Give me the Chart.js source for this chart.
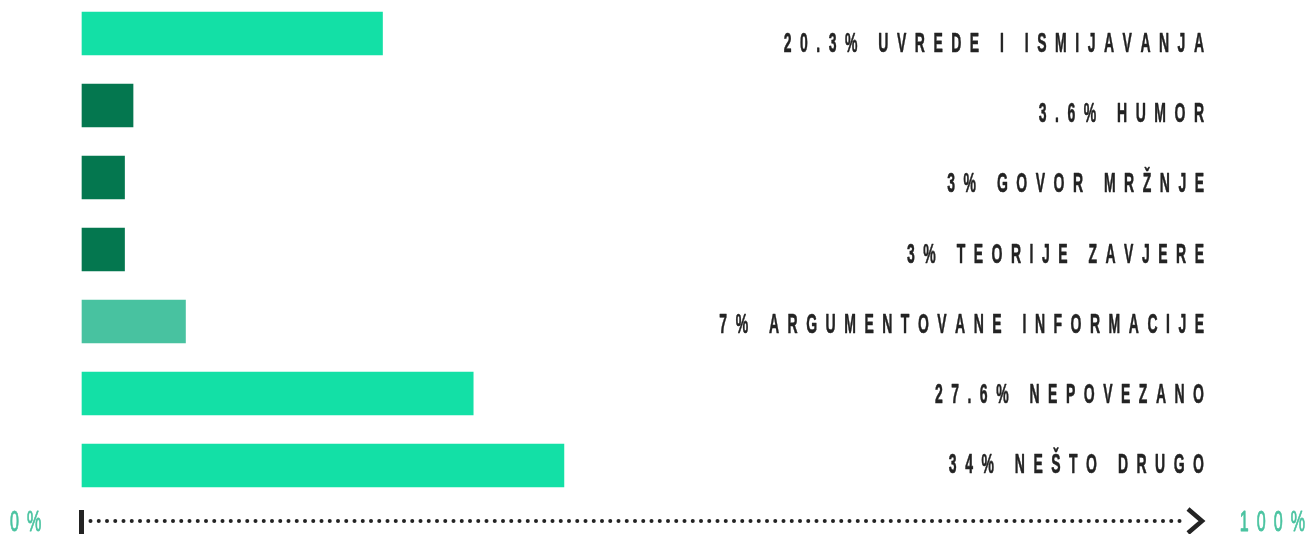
<!DOCTYPE html>
<html><head><meta charset="utf-8">
<script src="https://cdn.jsdelivr.net/npm/chart.js@4.4.0/dist/chart.umd.min.js"></script>
<style>html,body{margin:0;padding:0;background:#fff;}canvas{display:block;}</style>
</head><body>
<canvas id="c" width="1308" height="534"></canvas>
<script>
// ---- data ----
const categories = ["UVREDE I ISMIJAVANJA", "HUMOR", "GOVOR MRŽNJE", "TEORIJE ZAVJERE", "ARGUMENTOVANE INFORMACIJE", "NEPOVEZANO", "NEŠTO DRUGO"];
const percentLabels = ["20.3%", "3.6%", "3%", "3%", "7%", "27.6%", "34%"];
const barValues = [21.2, 3.6, 3, 3, 7.3, 27.6, 34];
const barColors = ["#13E0A6", "#04774F", "#04774F", "#04774F", "#48C2A0", "#13E0A6", "#13E0A6"];
const axisEndLabels = ["0%", "100%"];

const TEXT_DARK = "#232323";
const TEAL = "#4AC3A0";
const LABEL_FONT = 'bold 28px "Liberation Sans", Arial, sans-serif';
const END_FONT = '29px "Liberation Sans", Arial, sans-serif';

function spacedText(ctx, text, x0, baseline, font, sx, spacing, color, align, strokeW) {
  ctx.save();
  ctx.font = font; ctx.fillStyle = color; ctx.strokeStyle = color;
  ctx.textBaseline = 'alphabetic'; ctx.textAlign = 'left';
  const chars = Array.from(text);
  const ws = chars.map(ch => ctx.measureText(ch).width * sx);
  const total = ws.reduce((a, b) => a + b, 0) + spacing * (chars.length - 1);
  let x = align === 'right' ? x0 - total : x0;
  chars.forEach((ch, i) => {
    ctx.save(); ctx.translate(x, baseline); ctx.scale(sx, 1);
    ctx.fillText(ch, 0, 0);
    if (strokeW) { ctx.lineWidth = strokeW; ctx.lineJoin = 'round'; ctx.strokeText(ch, 0, 0); }
    ctx.restore();
    x += ws[i] + spacing;
  });
  ctx.restore();
}

const decor = {
  id: 'decor',
  afterDatasetsDraw(chart) {
    const ctx = chart.ctx;
    const area = chart.chartArea;
    const ys = chart.scales.y;
    // category labels: evenly spaced, slightly tighter than the bar rows
    const first = ys.getPixelForValue(0) + 8.5;
    const last = ys.getPixelForValue(categories.length - 1) - 2.3;
    const step = (last - first) / (categories.length - 1);
    categories.forEach((c, i) => {
      const y = first + i * step;
      spacedText(ctx, percentLabels[i] + " " + c, area.right - 2, y + 10,
        LABEL_FONT, 0.5, 8.5, TEXT_DARK, 'right', 0.6);
    });
    // bottom axis
    const x0 = chart.scales.x.getPixelForValue(0);
    const ay = chart.height - 13;
    ctx.save();
    ctx.fillStyle = TEXT_DARK;
    ctx.fillRect(x0 - 3, ay - 11, 5, 24);
    for (let x = x0 + 8.5; x < 1184; x += 8.25) {
      ctx.beginPath(); ctx.arc(x, ay, 2, 0, Math.PI * 2); ctx.fill();
    }
    ctx.strokeStyle = TEXT_DARK; ctx.lineWidth = 4.5; ctx.lineCap = 'butt'; ctx.lineJoin = 'miter';
    ctx.beginPath(); ctx.moveTo(1188, ay - 12); ctx.lineTo(1202, ay); ctx.lineTo(1188, ay + 12); ctx.stroke();
    ctx.restore();
    spacedText(ctx, axisEndLabels[0], 10, ay + 10, END_FONT, 0.555, 8, TEAL, 'left', 0.9);
    spacedText(ctx, axisEndLabels[1], 1305, ay + 10, END_FONT, 0.555, 8, TEAL, 'right', 0.9);
  }
};

new Chart(document.getElementById('c'), {
  type: 'bar',
  data: {
    labels: categories,
    datasets: [{
      data: barValues,
      backgroundColor: barColors,
      borderWidth: 0,
      barThickness: 43,
      clip: false
    }]
  },
  options: {
    indexAxis: 'y',
    responsive: false,
    animation: false,
    events: [],
    layout: { padding: { left: 82, right: 102, top: 33.5, bottom: 68.5 } },
    plugins: { legend: { display: false }, tooltip: { enabled: false } },
    scales: {
      x: { type: 'linear', min: 0, max: 79.3, display: false, grid: { display: false } },
      y: { type: 'category', offset: false, display: false, grid: { display: false } }
    }
  },
  plugins: [decor]
});
</script>
</body></html>
